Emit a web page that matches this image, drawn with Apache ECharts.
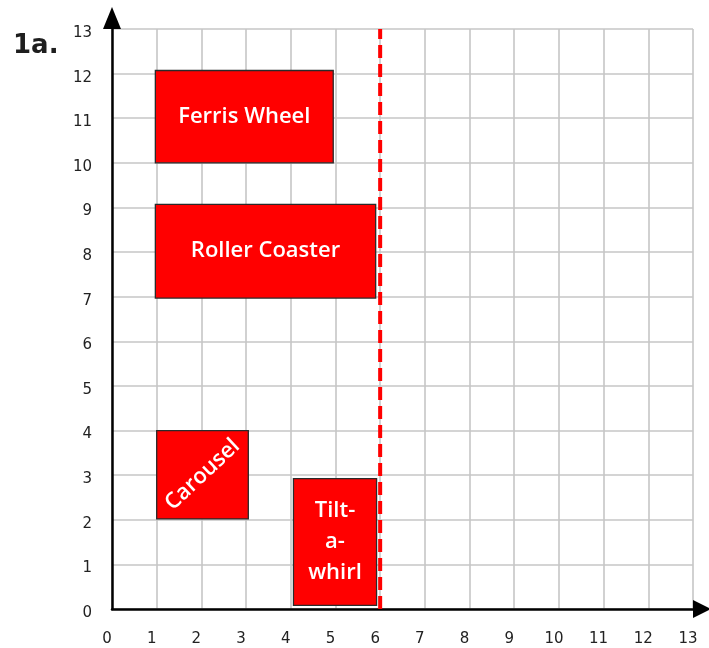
<!DOCTYPE html>
<html>
<head>
<meta charset="utf-8">
<script src="https://cdn.jsdelivr.net/npm/echarts@6/dist/echarts.min.js"></script>
<style>html,body{margin:0;padding:0;background:#fff;}#c{width:709px;height:648px;}</style>
</head>
<body>
<div id="c"></div>
<script>
const xTicks = [0,1,2,3,4,5,6,7,8,9,10,11,12,13];
const yTicks = [0,1,2,3,4,5,6,7,8,9,10,11,12,13];
const rideNames = ['Ferris Wheel', 'Roller Coaster', 'Carousel', 'Tilt-\na-\nwhirl'];
const rideX0 = [0.97, 0.97, 1.0, 4.06];
const rideX1 = [4.95, 5.9, 3.05, 5.92];
const rideY0 = [10.0, 6.97, 2.02, 0.08];
const rideY1 = [12.07, 9.07, 4.0, 2.92];
const rideTextAngle = [0, 0, 43, 0];
const dashX = [6, 6];
const dashY = [0, 13];

const rideData = rideNames.map((n, i) => [rideX0[i], rideY0[i], rideX1[i], rideY1[i]]);
const dashData = dashX.map((x, i) => [x, dashY[i]]);

const chart = echarts.init(document.getElementById('c'));
const FONT = 'DejaVu Sans';
const RIDE_FONT = 'Open Sans';
chart.setOption({
  animation: false,
  backgroundColor: '#fff',
  title: {
    text: '1a.', left: 8, top: 28,
    textStyle: {fontFamily: FONT, fontSize: 26, fontWeight: 'bold', color: '#1e1e1e'}
  },
  grid: {left: 112, right: 16, top: 29, bottom: 39},
  xAxis: {
    type: 'value', min: 0, max: 13, interval: 1,
    axisLine: {show: true, lineStyle: {color: '#000', width: 2.5}, symbol: ['none', 'triangle'], symbolSize: [18, 18], symbolOffset: [0, 9]},
    axisTick: {show: false},
    axisLabel: {
      margin: 23, color: '#222', fontSize: 15, fontFamily: FONT, padding: [0, 10, 0, 0],
      formatter: v => xTicks.indexOf(v) >= 0 ? String(v) : ''
    },
    splitLine: {show: true, lineStyle: {color: '#c6c6c6', width: 1.6}}
  },
  yAxis: {
    type: 'value', min: 0, max: 13, interval: 1,
    axisLine: {show: true, lineStyle: {color: '#000', width: 2.5}, symbol: ['none', 'triangle'], symbolSize: [18, 22], symbolOffset: [0, 11]},
    axisTick: {show: false},
    axisLabel: {
      margin: 20, color: '#222', fontSize: 15, fontFamily: FONT, verticalAlign: 'top', lineHeight: 8,
      formatter: v => yTicks.indexOf(v) >= 0 ? String(v) : ''
    },
    splitLine: {show: true, lineStyle: {color: '#c6c6c6', width: 1.6}}
  },
  series: [
    {
      type: 'custom',
      z: 3,
      data: rideData,
      encode: {x: [0, 2], y: [1, 3]},
      renderItem: function (params, api) {
        const i = params.dataIndex;
        const p0 = api.coord([api.value(0), api.value(1)]);
        const p1 = api.coord([api.value(2), api.value(3)]);
        return {
          type: 'rect',
          shape: {x: p0[0], y: p1[1], width: p1[0] - p0[0], height: p0[1] - p1[1]},
          style: {fill: '#ff0000', stroke: '#2a2a2a', lineWidth: 1.3},
          textContent: {
            style: {text: rideNames[i], fill: '#fff', fontFamily: RIDE_FONT, fontSize: 22, fontWeight: 600, lineHeight: 31, align: 'center', verticalAlign: 'middle'}
          },
          textConfig: {position: 'inside', rotation: rideTextAngle[i] * Math.PI / 180}
        };
      }
    },
    {
      type: 'line',
      z: 5,
      data: dashData,
      symbol: 'none',
      lineStyle: {color: '#ff0000', width: 4, type: [13, 6]}
    }
  ]
});
</script>
</body>
</html>
